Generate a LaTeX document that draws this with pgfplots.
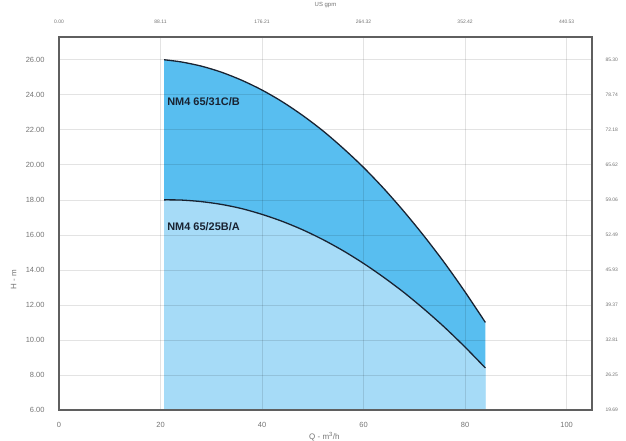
\documentclass[border=0pt]{standalone}
\usepackage{fontspec}
\setmainfont{Liberation Sans}
\usepackage{pgfplots}
\usepackage{pgfplotstable}
\pgfplotsset{compat=1.18}
\definecolor{upperfill}{RGB}{88,190,240}
\definecolor{lowerfill}{RGB}{166,219,247}
\definecolor{framec}{RGB}{95,95,95}
\definecolor{tickc}{RGB}{115,115,115}
\definecolor{curvec}{RGB}{25,35,50}
\pgfplotstableread{
x y
20.7 26.00
24 25.88
28 25.64
32 25.29
36 24.83
40 24.27
44 23.60
48 22.82
52 21.94
56 20.94
60 19.85
64 18.64
68 17.32
72 15.90
76 14.38
80 12.74
84 11.00
}\uppertab
\pgfplotstableread{
x y
20.7 18.00
24 17.99
28 17.90
32 17.74
36 17.50
40 17.17
44 16.77
48 16.29
52 15.73
56 15.09
60 14.37
64 13.57
68 12.70
72 11.74
76 10.71
80 9.59
84 8.40
}\lowertab
\begin{document}
\begin{tikzpicture}
\begin{axis}[
  at={(0,0)}, anchor=south west,
  scale only axis, width=533bp, height=373bp,
  xmin=0, xmax=105, ymin=6, ymax=27.3,
  xtick={0,20,40,60,80,100},
  xticklabels={0,20,40,60,80,100},
  ytick={6,8,10,12,14,16,18,20,22,24,26},
  yticklabels={6.00,8.00,10.00,12.00,14.00,16.00,18.00,20.00,22.00,24.00,26.00},
  grid=major,
  major grid style={black, opacity=0.11, line width=0.7pt},
  axis on top,
  axis line style={framec, line width=1.4pt},
  major tick length=0pt,
  tick label style={font=\fontsize{7.5}{8}\selectfont, text=tickc},
  xticklabel style={yshift=-9bp},
  yticklabel style={xshift=-11bp},
  xlabel={Q - m\textsuperscript{3}/h},
  ylabel={H - m},
  every axis x label/.style={at={(axis description cs:0.498,-0.072)}, anchor=center, font=\fontsize{8}{9}\selectfont, text=tickc},
  every axis y label/.style={at={(axis description cs:-0.085,0.35)}, rotate=90, anchor=center, font=\fontsize{8}{9}\selectfont, text=tickc},
  clip=true,
]
\addplot[fill=upperfill, draw=none] table {\uppertab} \closedcycle;
\addplot[fill=lowerfill, draw=none] table {\lowertab} \closedcycle;
\addplot[smooth, curvec, line width=1.3pt] table {\uppertab};
\addplot[smooth, curvec, line width=1.3pt] table {\lowertab};
\node[anchor=west, font=\bfseries\fontsize{11}{12}\selectfont, text=curvec, inner sep=0pt] at (axis cs:21.3,23.6) {NM4 65/31C/B};
\node[anchor=west, font=\bfseries\fontsize{11}{12}\selectfont, text=curvec, inner sep=0pt] at (axis cs:21.3,16.45) {NM4 65/25B/A};
\end{axis}
\begin{axis}[
  at={(0,0)}, anchor=south west,
  scale only axis, width=533bp, height=373bp,
  xmin=0, xmax=105, ymin=6, ymax=27.3,
  axis x line*=top, axis y line*=right,
  axis line style={draw=none},
  xtick={0,20,40,60,80,100},
  xticklabels={0.00,88.11,176.21,264.32,352.42,440.53},
  ytick={6,8,10,12,14,16,18,20,22,24,26},
  yticklabels={19.69,26.25,32.81,39.37,45.93,52.49,59.06,65.62,72.18,78.74,85.30},
  major tick length=0pt,
  tick label style={font=\fontsize{5}{6}\selectfont, text=tickc},
  xticklabel style={yshift=10bp},
  yticklabel style={xshift=10bp},
  xlabel={US gpm},
  every axis x label/.style={at={(axis description cs:0.5,1.086)}, anchor=center, font=\fontsize{6}{7}\selectfont, text=tickc},
]
\addplot[draw=none] coordinates {(0,6)};
\end{axis}
\pgfresetboundingbox
\path[use as bounding box] (-59bp,-31bp) rectangle (567bp,410bp);
\end{tikzpicture}
\end{document}
